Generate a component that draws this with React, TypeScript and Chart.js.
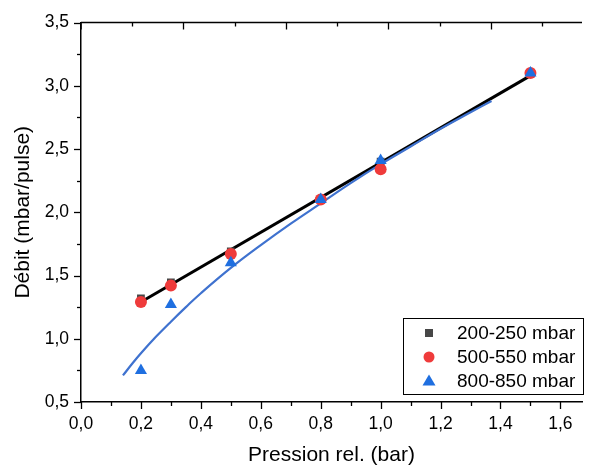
import React, { useEffect, useRef } from "react";
import { Chart, registerables } from "chart.js";

Chart.register(...registerables);

// ---- data ----
const pressure = [0.2, 0.3, 0.5, 0.8, 1.0, 1.5];
const debit200 = [1.32, 1.445, 1.69, 2.1, 2.4, 3.1];
const debit500 = [1.29, 1.42, 1.67, 2.1, 2.34, 3.1];
const debit800 = [0.75, 1.27, 1.6, 2.1, 2.41, 3.1];

const linFitX = [0.2, 1.5];
const linFitY = [1.29, 3.08];

const powFitX = [0.14, 0.17, 0.2, 0.25, 0.3, 0.35, 0.4, 0.5, 0.6, 0.7, 0.8, 0.9, 1.0, 1.1, 1.2, 1.3, 1.37];
const powFitY = [0.71, 0.8, 0.885, 1.015, 1.135, 1.25, 1.36, 1.56, 1.74, 1.91, 2.07, 2.23, 2.38, 2.52, 2.66, 2.79, 2.88];

const seriesLabels = ["200-250 mbar", "500-550 mbar", "800-850 mbar"];
const xTickValues = [0, 0.2, 0.4, 0.6, 0.8, 1.0, 1.2, 1.4, 1.6];
const xMinorValues = [0.1, 0.3, 0.5, 0.7, 0.9, 1.1, 1.3, 1.5];
const yTickValues = [0.5, 1.0, 1.5, 2.0, 2.5, 3.0, 3.5];
const yMinorValues = [0.75, 1.25, 1.75, 2.25, 2.75, 3.25];
const topMajorValues = [0.342, 0.684, 1.026, 1.368, 1.71];
const topMinorValues = [0.171, 0.513, 0.855, 1.197, 1.539];

const FONT = "Arial, 'Liberation Sans', sans-serif";

const colors = {
  sq: "#474747",
  circ: "#ef3b3b",
  tri: "#1f6fe0",
  blueLine: "#3f72cf",
};

const ticksPlugin = {
  id: "ticksPlugin",
  afterDraw(chart: any) {
    const ctx = chart.ctx;
    const x = chart.scales.x;
    const y = chart.scales.y;
    const { left, top, bottom } = chart.chartArea;
    ctx.save();
    ctx.strokeStyle = "#000";
    ctx.lineWidth = 1.3;
    const line = (x1: number, y1: number, x2: number, y2: number) => {
      ctx.beginPath();
      ctx.moveTo(x1, y1);
      ctx.lineTo(x2, y2);
      ctx.stroke();
    };
    xTickValues.forEach((v) => {
      const px = Math.round(x.getPixelForValue(v)) + 0.5;
      line(px, bottom, px, bottom + 7);
    });
    xMinorValues.forEach((v) => {
      const px = Math.round(x.getPixelForValue(v)) + 0.5;
      line(px, bottom, px, bottom + 4);
    });
    yTickValues.forEach((v) => {
      const py = Math.round(y.getPixelForValue(v)) + 0.5;
      line(left, py, left - 7, py);
    });
    yMinorValues.forEach((v) => {
      const py = Math.round(y.getPixelForValue(v)) + 0.5;
      line(left, py, left - 4, py);
    });
    topMajorValues.forEach((v) => {
      const px = Math.round(x.getPixelForValue(v)) + 0.5;
      line(px, top, px, top + 7);
    });
    topMinorValues.forEach((v) => {
      const px = Math.round(x.getPixelForValue(v)) + 0.5;
      line(px, top, px, top + 4);
    });
    ctx.lineWidth = 1.5;
    line(left, top, chart.chartArea.right, top);
    line(left, top, left, top + 7);

    // legend box
    const lx = 403, ly = 318, lw = 180, lh = 76;
    ctx.lineWidth = 1;
    ctx.strokeStyle = "#000";
    ctx.strokeRect(lx + 0.5, ly + 0.5, lw, lh);
    ctx.font = `19px ${FONT}`;
    ctx.textBaseline = "middle";
    ctx.textAlign = "left";
    const rows = [ly + 15, ly + 39, ly + 63];
    const mx = 429;
    ctx.fillStyle = colors.sq;
    ctx.fillRect(mx - 4, rows[0] - 4, 8, 8);
    ctx.fillStyle = colors.circ;
    ctx.beginPath();
    ctx.arc(mx, rows[1], 5.5, 0, Math.PI * 2);
    ctx.fill();
    ctx.fillStyle = colors.tri;
    ctx.beginPath();
    ctx.moveTo(mx, rows[2] - 6.5);
    ctx.lineTo(mx + 6.5, rows[2] + 4.5);
    ctx.lineTo(mx - 6.5, rows[2] + 4.5);
    ctx.closePath();
    ctx.fill();
    ctx.fillStyle = "#000";
    seriesLabels.forEach((t, i) => ctx.fillText(t, 457, rows[i] + 1));
    ctx.restore();
  },
};

export default function App() {
  const ref = useRef<HTMLCanvasElement>(null);
  useEffect(() => {
    document.body.style.margin = "0";
    const toPts = (xs: number[], ys: number[]) => xs.map((v, i) => ({ x: v, y: ys[i] }));
    const chart = new Chart(ref.current!, {
      type: "scatter",
      data: {
        datasets: [
          {
            label: seriesLabels[0],
            data: toPts(pressure, debit200),
            pointStyle: "rect",
            pointRadius: 5.5,
            backgroundColor: colors.sq,
            borderWidth: 0,
            order: 2,
          },
          {
            label: seriesLabels[1],
            data: toPts(pressure, debit500),
            pointStyle: "circle",
            pointRadius: 6,
            backgroundColor: colors.circ,
            borderWidth: 0,
            order: 1,
          },
          {
            label: seriesLabels[2],
            data: toPts(pressure, debit800),
            pointStyle: "triangle",
            pointRadius: 7,
            backgroundColor: colors.tri,
            borderWidth: 0,
            order: 0,
          },
          {
            label: "fit lin",
            type: "line",
            data: toPts(linFitX, linFitY),
            borderColor: "#000",
            borderWidth: 3,
            pointRadius: 0,
            fill: false,
            order: 4,
          },
          {
            label: "fit pow",
            type: "line",
            data: toPts(powFitX, powFitY),
            borderColor: colors.blueLine,
            borderWidth: 2.2,
            pointRadius: 0,
            tension: 0.4,
            fill: false,
            order: 3,
          },
        ],
      } as any,
      options: {
        animation: false,
        responsive: false,
        maintainAspectRatio: false,
        layout: { padding: 0 },
        plugins: {
          legend: { display: false },
          tooltip: { enabled: false },
        },
        scales: {
          x: {
            type: "linear",
            position: "bottom",
            min: 0,
            max: 1.672,
            afterBuildTicks: (s: any) => {
              s.ticks = xTickValues.map((v) => ({ value: v }));
            },
            afterFit: (s: any) => {
              s.height = 66;
              s.paddingLeft = 0;
              s.paddingRight = 0;
            },
            grid: { display: false, drawTicks: false },
            border: { display: true, color: "#000", width: 1.5 },
            ticks: {
              padding: 12,
              color: "#000",
              font: { family: FONT, size: 17.5 },
              maxRotation: 0,
              autoSkip: false,
              callback: (v: any) => Number(v).toFixed(1).replace(".", ","),
            },
            title: {
              display: true,
              text: "Pression rel. (bar)",
              color: "#000",
              font: { family: FONT, size: 21 },
              padding: { top: 0, bottom: 0 },
            },
          },
          y: {
            type: "linear",
            position: "left",
            min: 0.5,
            max: 3.5,
            afterBuildTicks: (s: any) => {
              s.ticks = yTickValues.map((v) => ({ value: v }));
            },
            afterFit: (s: any) => {
              s.width = 81;
            },
            grid: { display: false, drawTicks: false },
            border: { display: true, color: "#000", width: 1.5 },
            ticks: {
              padding: 12,
              color: "#000",
              font: { family: FONT, size: 17.5 },
              callback: (v: any) => Number(v).toFixed(1).replace(".", ","),
            },
            title: {
              display: true,
              text: "Débit (mbar/pulse)",
              color: "#000",
              font: { family: FONT, size: 21 },
              padding: { top: 11, bottom: 0 },
            },
          },
          x2: {
            type: "linear",
            position: "top",
            min: 0,
            max: 1.672,
            afterFit: (s: any) => {
              s.height = 18;
            },
            grid: { display: false, drawTicks: false },
            border: { display: false },
            ticks: { display: false },
          },
        },
      } as any,
      plugins: [ticksPlugin],
    });
    return () => chart.destroy();
  }, []);
  return (
    <div style={{ position: "absolute", left: 0, top: 0, width: 589, height: 468 }}>
      <canvas ref={ref} width={589} height={468} style={{ display: "block" }} />
    </div>
  );
}
